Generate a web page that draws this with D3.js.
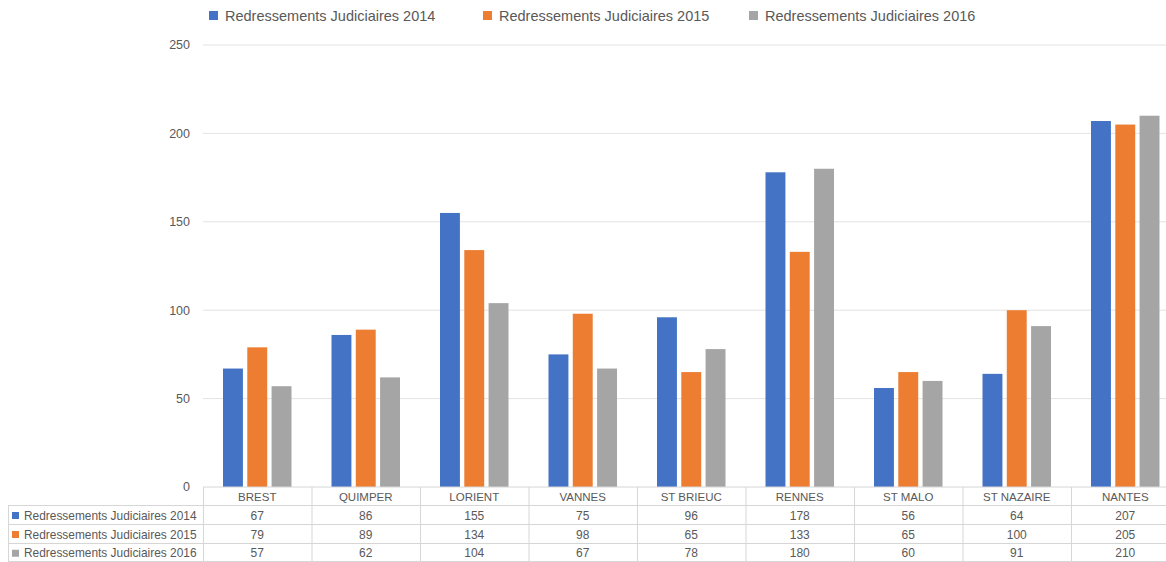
<!DOCTYPE html>
<html>
<head>
<meta charset="utf-8">
<script src="https://cdn.jsdelivr.net/npm/d3@7"></script>
<style>
  body { margin: 0; background: #fff; }
  svg text { font-family: "Liberation Sans", Arial, sans-serif; fill: #595959; }
</style>
</head>
<body>
<div id="chart"></div>
<script>
// data
var villes = ["BREST", "QUIMPER", "LORIENT", "VANNES", "ST BRIEUC", "RENNES", "ST MALO", "ST NAZAIRE", "NANTES"];
var series = ["Redressements Judiciaires 2014", "Redressements Judiciaires 2015", "Redressements Judiciaires 2016"];
var rj2014 = [67, 86, 155, 75, 96, 178, 56, 64, 207];
var rj2015 = [79, 89, 134, 98, 65, 133, 65, 100, 205];
var rj2016 = [57, 62, 104, 67, 78, 180, 60, 91, 210];
var yTicks = [0, 50, 100, 150, 200, 250];
var colours = ["#4472C4", "#ED7D31", "#A5A5A5"];

var values = [rj2014, rj2015, rj2016];
var svgWidth = 1166, svgHeight = 562;

var svg = d3.select("#chart").append("svg")
    .attr("width", svgWidth).attr("height", svgHeight);

// scales
var x = d3.scaleBand().domain(villes).range([203, 1179.5]).padding(0);
var bw = x.bandwidth();
var xs = d3.scaleBand().domain(series).range([20, bw - 20]).paddingInner(0.18).paddingOuter(0);
var y = d3.scaleLinear().domain([0, 250]).range([487, 45]);

// gridlines
svg.append("g").selectAll("line").data(yTicks.slice(1)).enter().append("line")
    .attr("x1", 203).attr("x2", svgWidth)
    .attr("y1", function(d) { return y(d); }).attr("y2", function(d) { return y(d); })
    .attr("stroke", "#e3e3e3").attr("stroke-width", 1);

// y axis labels
svg.append("g").selectAll("text").data(yTicks).enter().append("text")
    .attr("x", 190)
    .attr("y", function(d) { return y(d); })
    .attr("dy", "0.35em")
    .attr("text-anchor", "end")
    .style("font-size", "12.5px")
    .text(function(d) { return d; });

// bars
series.forEach(function(s, si) {
    svg.append("g").selectAll("rect").data(villes).enter().append("rect")
        .attr("x", function(d) { return x(d) + xs(s); })
        .attr("y", function(d, i) { return y(values[si][i]); })
        .attr("width", xs.bandwidth())
        .attr("height", function(d, i) { return y(0) - y(values[si][i]); })
        .attr("fill", colours[si]);
});

// legend at top
var legendX = [209, 483, 749];
series.forEach(function(s, si) {
    var g = svg.append("g").attr("transform", "translate(" + legendX[si] + ",16)");
    g.append("rect").attr("x", 0).attr("y", -5).attr("width", 9).attr("height", 9).attr("fill", colours[si]);
    g.append("text").attr("x", 16).attr("y", 0).attr("dy", "0.35em")
        .style("font-size", "14.5px").text(s);
});

// data table
var rowTop = [487, 505.5, 524.5, 543.5];
var rowBottom = 562;
var tbl = svg.append("g");
var lineCol = "#d6d6d6";

// horizontal lines
tbl.append("line").attr("x1", 203).attr("x2", svgWidth).attr("y1", rowTop[0]).attr("y2", rowTop[0]).attr("stroke", lineCol);
rowTop.slice(1).forEach(function(ry) {
    tbl.append("line").attr("x1", 8).attr("x2", svgWidth).attr("y1", ry).attr("y2", ry).attr("stroke", lineCol);
});
tbl.append("line").attr("x1", 8).attr("x2", svgWidth).attr("y1", rowBottom - 0.5).attr("y2", rowBottom - 0.5).attr("stroke", lineCol);

// vertical lines
tbl.append("line").attr("x1", 8.5).attr("x2", 8.5).attr("y1", rowTop[1]).attr("y2", rowBottom).attr("stroke", lineCol);
villes.forEach(function(v) {
    tbl.append("line").attr("x1", x(v) + 0.5).attr("x2", x(v) + 0.5)
        .attr("y1", rowTop[0]).attr("y2", rowBottom).attr("stroke", lineCol);
});

// header labels
tbl.selectAll("text.cat").data(villes).enter().append("text")
    .attr("class", "cat")
    .attr("x", function(d) { return x(d) + bw / 2; })
    .attr("y", (rowTop[0] + rowTop[1]) / 2 + 1)
    .attr("dy", "0.35em")
    .attr("text-anchor", "middle")
    .style("font-size", "11.5px")
    .text(function(d) { return d; });

// rows
series.forEach(function(s, si) {
    var cy = (rowTop[si + 1] + (si < 2 ? rowTop[si + 2] : rowBottom)) / 2 + 0.5;
    tbl.append("rect").attr("x", 12).attr("y", cy - 3.5).attr("width", 7).attr("height", 7).attr("fill", colours[si]);
    tbl.append("text").attr("x", 24).attr("y", cy).attr("dy", "0.35em")
        .style("font-size", "11.9px").text(s);
    tbl.selectAll("text.v" + si).data(villes).enter().append("text")
        .attr("class", "v" + si)
        .attr("x", function(d) { return x(d) + bw / 2; })
        .attr("y", cy)
        .attr("dy", "0.35em")
        .attr("text-anchor", "middle")
        .style("font-size", "12px")
        .text(function(d, i) { return values[si][i]; });
});
</script>
</body>
</html>
